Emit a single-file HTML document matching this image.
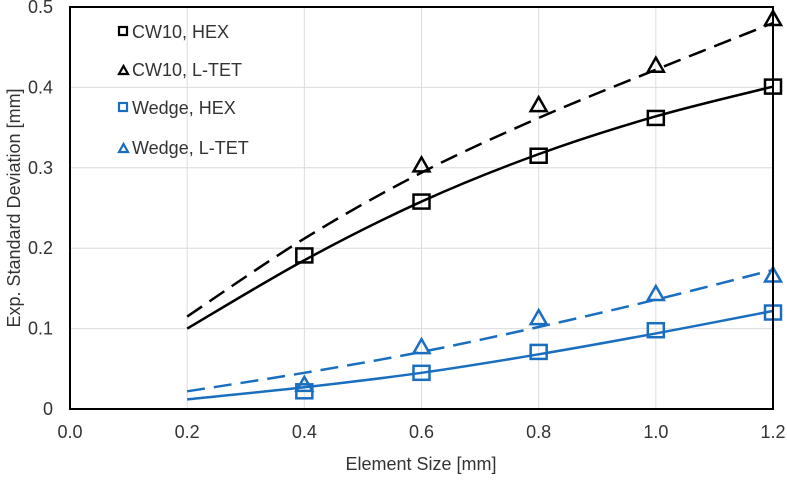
<!DOCTYPE html>
<html><head><meta charset="utf-8"><style>
body{margin:0;background:#fff;}
svg text{font-family:"Liberation Sans",Arial,sans-serif;fill:#333;}
</style></head><body>
<svg id="chart" width="787" height="475" viewBox="0 0 787 475" xmlns="http://www.w3.org/2000/svg">
<g id="grid"></g>
<g id="series"></g>
<rect x="70" y="7" width="703" height="402" fill="none" stroke="#000" stroke-width="2"/>
<g id="ticks"></g>
<text x="421" y="470" font-size="18" text-anchor="middle">Element Size [mm]</text>
<text transform="translate(20,208) rotate(-90)" font-size="18" text-anchor="middle">Exp. Standard Deviation [mm]</text>
<g font-size="18">
 <g><rect x="119" y="27" width="8" height="8" fill="none" stroke="#000" stroke-width="2.2"/><text x="132" y="38" fill="#1a1a1a">CW10, HEX</text></g>
 <g><path d="M119,74 L123.5,66 L128,74 Z" fill="none" stroke="#000" stroke-width="2.2"/><text x="132" y="76" fill="#1a1a1a">CW10, L-TET</text></g>
 <g><rect x="119" y="103" width="8" height="8" fill="none" stroke="#1a6ec0" stroke-width="2.2"/><text x="132" y="114" fill="#1a1a1a">Wedge, HEX</text></g>
 <g><path d="M119,152 L123.5,144 L128,152 Z" fill="none" stroke="#1a6ec0" stroke-width="2.2"/><text x="132" y="154" fill="#1a1a1a">Wedge, L-TET</text></g>
</g>
</svg>
<script>
const xTicks=[0.0,0.2,0.4,0.6,0.8,1.0,1.2];
const yTicks=[0,0.1,0.2,0.3,0.4,0.5];
const xTickLabels=["0.0","0.2","0.4","0.6","0.8","1.0","1.2"];
const yTickLabels=["0","0.1","0.2","0.3","0.4","0.5"];
const markerX=[0.4,0.6,0.8,1.0,1.2];
const cw10Hex=[0.191,0.258,0.315,0.362,0.401];
const cw10Ltet=[null,0.303,0.378,0.427,0.485];
const wedgeHex=[0.022,0.045,0.071,0.098,0.120];
const wedgeLtet=[0.030,0.077,0.113,0.143,0.166];
const fitX=[0.2,0.4,0.6,0.8,1.0,1.2];
const cw10HexFit=[0.100,0.185,0.258,0.317,0.364,0.401];
const cw10LtetFit=[0.115,0.212,0.294,0.362,0.422,0.480];
const wedgeHexFit=[0.012,0.027,0.045,0.068,0.094,0.122];
const wedgeLtetFit=[0.022,0.045,0.071,0.102,0.136,0.173];

const NS="http://www.w3.org/2000/svg";
const X=v=>70+v/1.2*703, Y=v=>409-v/0.5*402;
function mk(tag,attrs,parent){const e=document.createElementNS(NS,tag);for(const k in attrs)e.setAttribute(k,attrs[k]);parent.appendChild(e);return e;}
const grid=document.getElementById('grid'),ticks=document.getElementById('ticks'),ser=document.getElementById('series');
xTicks.forEach((t,i)=>{
 const l=mk('line',{x1:X(t),x2:X(t),y1:7,y2:409,stroke:'#dcdcdc','stroke-width':1},grid);
 
 
 const tx=mk('text',{x:X(t),y:438,'font-size':18,'text-anchor':'middle'},ticks);tx.textContent=xTickLabels[i];
 
 
});
yTicks.forEach((t,i)=>{
 const l=mk('line',{x1:70,x2:773,y1:Y(t),y2:Y(t),stroke:'#dcdcdc','stroke-width':1},grid);
 
 
 const tx=mk('text',{x:53,y:Y(t)+6,'font-size':18,'text-anchor':'end'},ticks);tx.textContent=yTickLabels[i];
 
 
});
function smooth(xs,ys){
 const p=xs.map((x,i)=>[X(x),Y(ys[i])]);let d=`M${p[0][0]},${p[0][1]}`;
 for(let i=0;i<p.length-1;i++){const p0=p[i-1]||p[i],p1=p[i],p2=p[i+1],p3=p[i+2]||p2;
  d+=` C${p1[0]+(p2[0]-p0[0])/6},${p1[1]+(p2[1]-p0[1])/6} ${p2[0]-(p3[0]-p1[0])/6},${p2[1]-(p3[1]-p1[1])/6} ${p2[0]},${p2[1]}`;}
 return d;}
function series(name,fit,pts,color,dash,shape){
 const path=mk('path',{d:smooth(fitX,fit),fill:'none',stroke:color,'stroke-width':2.5,'stroke-dasharray':dash},ser);
 
 
 markerX.forEach((x,i)=>{const v=pts[i];if(v==null)return;const cx=X(x),cy=Y(v);let m;
  if(shape==='sq')m=mk('rect',{x:cx-8,y:cy-7,width:16,height:14,fill:'none',stroke:color,'stroke-width':2.5},ser);
  else m=mk('path',{d:`M${cx-8},${cy+6} L${cx},${cy-8} L${cx+8},${cy+6} Z`,fill:'none',stroke:color,'stroke-width':2.5},ser);
  
  
 });}
series('cw10-hex',cw10HexFit,cw10Hex,'#000','none','sq');
series('cw10-ltet',cw10LtetFit,cw10Ltet,'#000','18 9','tri');
series('wedge-hex',wedgeHexFit,wedgeHex,'#1a6ec0','none','sq');
series('wedge-ltet',wedgeLtetFit,wedgeLtet,'#1a6ec0','18 9','tri');
</script>
</body></html>
